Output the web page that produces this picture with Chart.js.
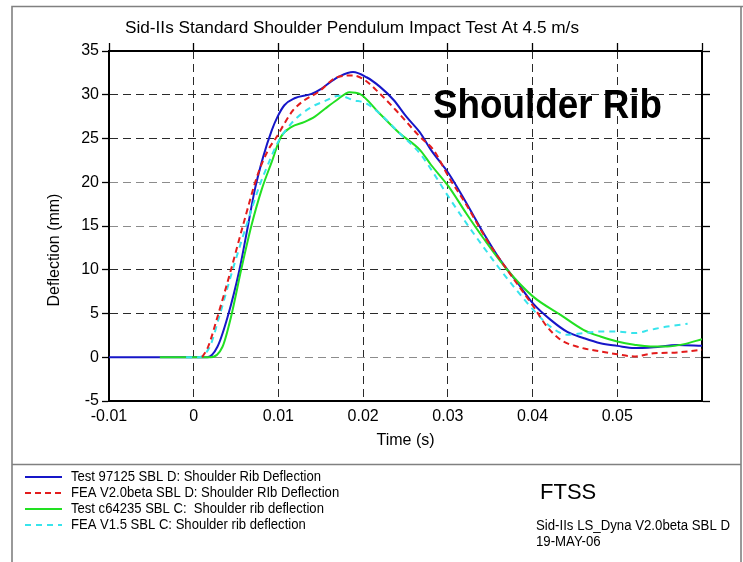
<!DOCTYPE html>
<html><head><meta charset="utf-8">
<script src="https://cdn.jsdelivr.net/npm/chart.js@4.4.1/dist/chart.umd.min.js"></script>
<style>html,body{margin:0;padding:0;background:#fff;}canvas{display:block;}</style>
</head><body>
<canvas id="c" width="743" height="562"></canvas>
<script>
// ---- axis ticks ----
const xTicks = [-0.01, 0, 0.01, 0.02, 0.03, 0.04, 0.05, 0.06];
const xTickLabels = ['-0.01', '0', '0.01', '0.02', '0.03', '0.04', '0.05', ''];
const yTicks = [-5, 0, 5, 10, 15, 20, 25, 30, 35];
const yTickLabels = ['-5', '0', '5', '10', '15', '20', '25', '30', '35'];
const grayGridValues = [0, 15, 20];

// ---- series (time in s, deflection in mm) ----
const seriesNames = [
  'Test 97125 SBL D: Shoulder Rib Deflection',
  'FEA V2.0beta SBL D: Shoulder RIb Deflection',
  'Test c64235 SBL C:  Shoulder rib deflection',
  'FEA V1.5 SBL C: Shoulder rib deflection'
];
const blueT = [-0.010, 0.0016, 0.0028, 0.0040, 0.0054, 0.0064, 0.0072, 0.0082, 0.0092, 0.0099, 0.0107, 0.0119, 0.0139, 0.0151, 0.0162, 0.0172, 0.0188, 0.0204, 0.0220, 0.0236, 0.0251, 0.0267, 0.0280, 0.0301, 0.0322, 0.0342, 0.0362, 0.0380, 0.0401, 0.0421, 0.0441, 0.0460, 0.0480, 0.0500, 0.0520, 0.0543, 0.0571, 0.0600];
const blueV = [0, 0, 1.2, 4.6, 10.0, 15.0, 19.1, 22.9, 25.9, 27.5, 28.8, 29.6, 30.1, 30.7, 31.5, 32.1, 32.6, 32.0, 30.9, 29.4, 27.5, 25.7, 23.7, 21.0, 17.6, 14.2, 11.1, 8.8, 6.1, 4.3, 2.9, 2.2, 1.6, 1.3, 1.05, 1.15, 1.4, 1.3];

const redT = [0.0010, 0.0017, 0.0028, 0.0044, 0.0058, 0.0076, 0.0088, 0.0098, 0.0107, 0.0117, 0.0131, 0.0147, 0.0169, 0.0188, 0.0200, 0.0220, 0.0239, 0.0267, 0.0283, 0.0301, 0.0322, 0.0346, 0.0370, 0.0401, 0.0417, 0.0433, 0.0453, 0.0480, 0.0500, 0.0520, 0.0543, 0.0571, 0.0600];
const redV = [0, 1.2, 4.6, 10.0, 15.0, 21.0, 23.7, 25.2, 26.7, 28.2, 29.4, 30.3, 32.0, 32.2, 31.8, 30.1, 28.2, 25.2, 23.7, 20.6, 17.4, 13.4, 10.0, 5.8, 3.5, 2.0, 1.2, 0.66, 0.35, 0.1, 0.45, 0.55, 0.86];

const greenT = [-0.0040, 0.0020, 0.0034, 0.0044, 0.0056, 0.0068, 0.0080, 0.0092, 0.0103, 0.0115, 0.0131, 0.0143, 0.0155, 0.0169, 0.0184, 0.0196, 0.0220, 0.0243, 0.0267, 0.0280, 0.0301, 0.0322, 0.0342, 0.0370, 0.0401, 0.0433, 0.0460, 0.0480, 0.0500, 0.0520, 0.0539, 0.0559, 0.0579, 0.0600];
const greenV = [0, 0, 1.2, 4.6, 10.0, 15.0, 19.1, 22.3, 25.2, 26.3, 26.9, 27.5, 28.4, 29.4, 30.3, 30.1, 27.8, 25.6, 23.7, 22.0, 19.5, 16.4, 13.6, 10.0, 6.9, 4.85, 3.14, 2.37, 1.8, 1.43, 1.23, 1.23, 1.5, 2.07];

const cyanT = [-0.0009, 0.0005, 0.0019, 0.0030, 0.0046, 0.0062, 0.0078, 0.0088, 0.0099, 0.0115, 0.0127, 0.0143, 0.0153, 0.0172, 0.0188, 0.0204, 0.0220, 0.0243, 0.0267, 0.0280, 0.0301, 0.0322, 0.0342, 0.0362, 0.0380, 0.0401, 0.0421, 0.0441, 0.0460, 0.0480, 0.0500, 0.0520, 0.0539, 0.0559, 0.0583];
const cyanV = [0, 0, 1.2, 4.6, 10.0, 15.0, 19.7, 22.1, 24.5, 26.7, 27.8, 28.8, 29.2, 29.9, 29.4, 29.0, 27.8, 25.6, 23.3, 21.5, 18.3, 15.3, 12.6, 10.0, 7.8, 5.4, 3.5, 2.57, 2.76, 2.94, 2.94, 2.76, 3.13, 3.51, 3.82];

const colors = ['#1616c8', '#e31c1c', '#22e022', '#38e4ec'];
const dashes = [[], [6, 4], [], [6, 5]];

const pts = (T, V) => T.map((t, i) => ({x: t, y: V[i]}));
const FONT = '"Liberation Sans", Arial, sans-serif';

function fitText(ctx, text, x, y, font, targetW, sx) {
  ctx.save();
  ctx.font = font;
  const w = ctx.measureText(text).width;
  ctx.translate(x, y);
  if (targetW) ctx.scale(targetW / w, 1);
  else if (sx) ctx.scale(sx, 1);
  ctx.fillText(text, 0, 0);
  ctx.restore();
}

const decor = {
  id: 'decor',
  beforeDraw(chart) {
    const ctx = chart.ctx;
    ctx.save();
    ctx.fillStyle = '#fff';
    ctx.fillRect(0, 0, chart.width, chart.height);
    ctx.strokeStyle = '#808080';
    ctx.lineWidth = 1.6;
    ctx.beginPath();
    ctx.moveTo(12, 562); ctx.lineTo(12, 6.5); ctx.lineTo(743, 6.5);
    ctx.moveTo(741, 6.5); ctx.lineTo(741, 562);
    ctx.moveTo(12, 464.5); ctx.lineTo(741, 464.5);
    ctx.stroke();
    ctx.restore();
  },
  afterDraw(chart) {
    const ctx = chart.ctx;
    ctx.save();
    ctx.fillStyle = '#000';
    ctx.textAlign = 'left';
    ctx.textBaseline = 'middle';
    fitText(ctx, 'Sid-IIs Standard Shoulder Pendulum Impact Test At 4.5 m/s', 125, 29, '16px ' + FONT, 454);
    ctx.textBaseline = 'alphabetic';
    fitText(ctx, 'Shoulder Rib', 433, 117.5, 'bold 41px ' + FONT, 229);
    // y axis title
    ctx.save();
    ctx.translate(55, 250);
    ctx.rotate(-Math.PI / 2);
    ctx.textAlign = 'center';
    ctx.textBaseline = 'middle';
    ctx.font = '16px ' + FONT;
    ctx.fillText('Deflection (mm)', 0, 0);
    ctx.restore();
    // legend
    const rows = [477, 493, 509, 525];
    const legFont = '14px ' + FONT;
    ctx.font = legFont;
    const sx = 250 / ctx.measureText(seriesNames[0]).width;
    seriesNames.forEach((name, i) => {
      ctx.save();
      ctx.strokeStyle = colors[i];
      ctx.lineWidth = 2;
      ctx.setLineDash(dashes[i]);
      ctx.beginPath();
      ctx.moveTo(25, rows[i]); ctx.lineTo(62, rows[i]);
      ctx.stroke();
      ctx.restore();
      ctx.textBaseline = 'middle';
      fitText(ctx, name, 71, rows[i], legFont, null, sx);
    });
    ctx.textBaseline = 'alphabetic';
    ctx.font = '22px ' + FONT;
    ctx.fillText('FTSS', 540, 499);
    ctx.textBaseline = 'middle';
    fitText(ctx, 'Sid-IIs LS_Dyna V2.0beta SBL D', 536, 526, '14px ' + FONT, 194);
    fitText(ctx, '19-MAY-06', 536, 542, '14px ' + FONT, null, 194 / (function(){ctx.font = '14px ' + FONT; return ctx.measureText('Sid-IIs LS_Dyna V2.0beta SBL D').width;})());
    ctx.restore();
  }
};

const setX = s => { s.ticks = xTicks.map(v => ({value: v})); };
const setY = s => { s.ticks = yTicks.map(v => ({value: v})); };

new Chart(document.getElementById('c'), {
  type: 'line',
  data: {
    datasets: [
      {label: seriesNames[1], data: pts(redT, redV), borderColor: colors[1], borderDash: dashes[1], order: 0},
      {label: seriesNames[3], data: pts(cyanT, cyanV), borderColor: colors[3], borderDash: dashes[3], order: 1},
      {label: seriesNames[2], data: pts(greenT, greenV), borderColor: colors[2], borderDash: dashes[2], order: 2},
      {label: seriesNames[0], data: pts(blueT, blueV), borderColor: colors[0], borderDash: dashes[0], order: 3}
    ].map(d => Object.assign(d, {borderWidth: 2, pointRadius: 0, fill: false, cubicInterpolationMode: 'monotone'}))
  },
  options: {
    responsive: false,
    animation: false,
    devicePixelRatio: 1,
    layout: {padding: {left: 0, top: 43, right: 33, bottom: 111}},
    plugins: {legend: {display: false}, title: {display: false}, tooltip: {enabled: false}},
    scales: {
      x: {
        type: 'linear', position: 'bottom', min: -0.01, max: 0.06,
        afterBuildTicks: setX,
        afterFit: s => { s.height = 50; },
        ticks: {callback: (v, i) => xTickLabels[i], font: {family: FONT, size: 16}, color: '#000', padding: 6, maxRotation: 0, autoSkip: false},
        grid: {color: '#2a2a2a', lineWidth: 1, drawTicks: false},
        border: {display: true, color: '#000', width: 2, dash: [8, 5]},
        title: {display: true, text: 'Time (s)', font: {family: FONT, size: 16}, color: '#000', padding: {top: 0, bottom: 1}}
      },
      x2: {
        type: 'linear', position: 'top', min: -0.01, max: 0.06,
        afterBuildTicks: setX,
        afterFit: s => { s.height = 8; },
        ticks: {display: false},
        grid: {drawOnChartArea: false, drawTicks: true, tickLength: 8, tickColor: '#000', tickWidth: 1.3},
        border: {display: true, color: '#000', width: 2}
      },
      y: {
        type: 'linear', position: 'left', min: -5, max: 35,
        afterBuildTicks: setY,
        afterFit: s => { s.width = 109; },
        ticks: {callback: (v, i) => yTickLabels[i], font: {family: FONT, size: 16}, color: '#000', padding: 3, autoSkip: false},
        grid: {
          color: c => (c.tick && grayGridValues.includes(c.tick.value)) ? '#8c8c8c' : '#2a2a2a',
          lineWidth: 1, drawTicks: true, tickLength: 7, tickColor: '#000', tickWidth: 1.3
        },
        border: {display: true, color: '#000', width: 2, dash: [8, 5]}
      },
      y2: {
        type: 'linear', position: 'right', min: -5, max: 35,
        afterBuildTicks: setY,
        afterFit: s => { s.width = 8; },
        ticks: {display: false},
        grid: {drawOnChartArea: false, drawTicks: true, tickLength: 8, tickColor: '#000', tickWidth: 1.3},
        border: {display: true, color: '#000', width: 2}
      }
    }
  },
  plugins: [decor]
});
</script>
</body></html>
